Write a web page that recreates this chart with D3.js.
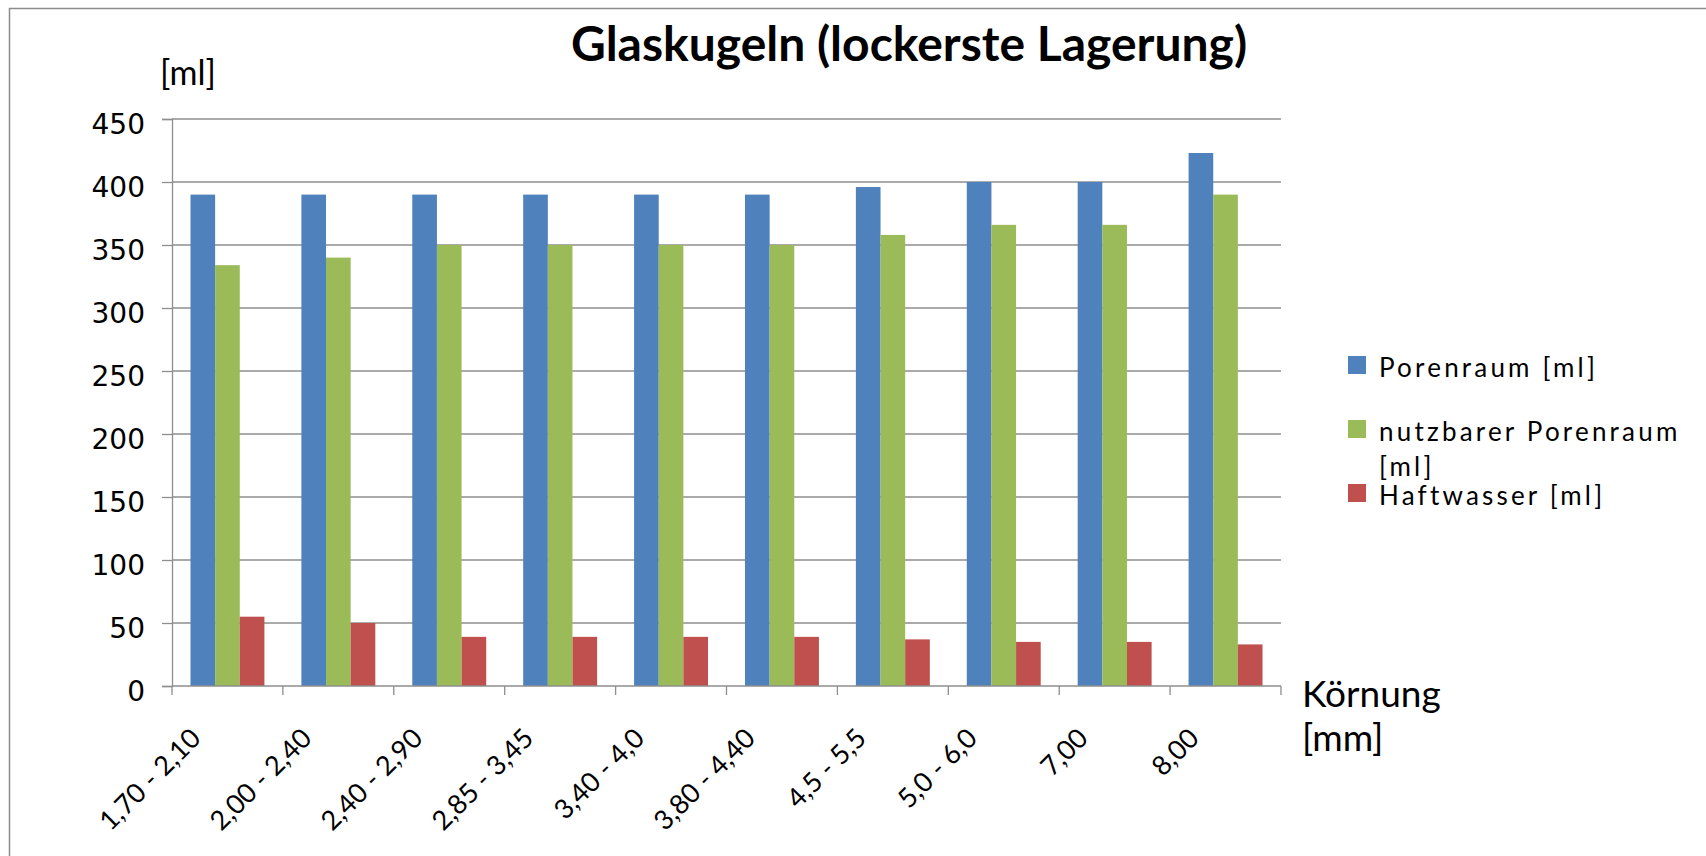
<!DOCTYPE html>
<html>
<head>
<meta charset="utf-8">
<script src="https://cdn.jsdelivr.net/npm/d3@7"></script>
<style>
  body { margin: 0; background: #fff; }
  svg { display: block; }
</style>
</head>
<body>
<div id="svg_area"></div>
<script>
// Data
var categories = ["1,70 - 2,10", "2,00 - 2,40", "2,40 - 2,90", "2,85 - 3,45", "3,40 - 4,0",
                  "3,80 - 4,40", "4,5 - 5,5", "5,0 - 6,0", "7,00", "8,00"];
var seriesNames = ["Porenraum [ml]", "nutzbarer Porenraum [ml]", "Haftwasser [ml]"];
var porenraum = [390, 390, 390, 390, 390, 390, 396, 400, 400, 423];
var nutzbarerPorenraum = [334, 340, 350, 350, 350, 350, 358, 366, 366, 390];
var haftwasser = [55, 50, 39, 39, 39, 39, 37, 35, 35, 33];
var yTicks = [0, 50, 100, 150, 200, 250, 300, 350, 400, 450];

var colors = ["#4F81BD", "#9BBB59", "#C0504D"];

// Define SVG area dimensions
var svgWidth = 1706;
var svgHeight = 856;

// plot area
var margin = { top: 119, left: 172, right: 1706 - 1281, bottom: 856 - 686 };
var chartWidth = svgWidth - margin.left - margin.right;
var chartHeight = svgHeight - margin.top - margin.bottom;

var svg = d3.select("#svg_area")
  .append("svg")
  .attr("width", svgWidth)
  .attr("height", svgHeight);

svg.append("rect")
  .attr("width", svgWidth)
  .attr("height", svgHeight)
  .attr("fill", "#fff");

// outer chart border (right and bottom sides run off the picture)
svg.append("rect")
  .attr("x", 9.5)
  .attr("y", 8.5)
  .attr("width", svgWidth + 20)
  .attr("height", svgHeight + 20)
  .attr("fill", "none")
  .attr("stroke", "#8c8c8c")
  .attr("stroke-width", 1.5);

var chartGroup = svg.append("g")
  .attr("transform", `translate(${margin.left}, ${margin.top})`);

// build rows for grouping
var tableData = categories.map(function(c, i) {
  return { cat: c, values: [porenraum[i], nutzbarerPorenraum[i], haftwasser[i]] };
});

// scales
var xScale = d3.scaleBand()
  .domain(categories)
  .range([0, chartWidth])
  .paddingInner(1 / 3)
  .paddingOuter(1 / 6);

var xInner = d3.scaleBand()
  .domain(d3.range(seriesNames.length))
  .range([0, xScale.bandwidth()]);

var yScale = d3.scaleLinear()
  .domain([0, 450])
  .range([chartHeight, 0]);

// gridlines
chartGroup.append("g")
  .selectAll("line")
  .data(yTicks.filter(d => d > 0))
  .enter()
  .append("line")
  .attr("x1", 0)
  .attr("x2", chartWidth)
  .attr("y1", d => yScale(d))
  .attr("y2", d => yScale(d))
  .attr("stroke", "#8e8e8e")
  .attr("stroke-width", 1.3);

// left axis
var leftAxis = d3.axisLeft(yScale)
  .tickValues(yTicks)
  .tickSize(10)
  .tickPadding(17)
  .tickFormat(d3.format("d"));

var yAxisG = chartGroup.append("g")
  .call(leftAxis);
yAxisG.select(".domain").attr("stroke", "#8e8e8e").attr("stroke-width", 1.3);
yAxisG.selectAll(".tick line").attr("stroke", "#8e8e8e").attr("stroke-width", 1.3);
yAxisG.selectAll(".tick text")
  .attr("font-family", "DejaVu Sans")
  .attr("font-size", "28px")
  .attr("fill", "#000")
  .attr("dy", "0.52em");

// bars
var groups = chartGroup.selectAll(".group")
  .data(tableData)
  .enter()
  .append("g")
  .attr("class", "group")
  .attr("transform", d => `translate(${xScale(d.cat)}, 0)`);

groups.selectAll("rect")
  .data(d => d.values)
  .enter()
  .append("rect")
  .attr("x", (d, i) => xInner(i))
  .attr("width", xInner.bandwidth())
  .attr("y", d => yScale(d))
  .attr("height", d => chartHeight - yScale(d))
  .attr("fill", (d, i) => colors[i]);

// bottom axis with ticks between categories
var boundaries = d3.range(categories.length + 1).map(function(i) {
  return i * xScale.step();
});
var xAxisG = chartGroup.append("g")
  .attr("transform", `translate(0, ${chartHeight})`);
xAxisG.append("line")
  .attr("x1", 0)
  .attr("x2", chartWidth)
  .attr("stroke", "#8e8e8e")
  .attr("stroke-width", 1.5);
xAxisG.selectAll(".btick")
  .data(boundaries)
  .enter()
  .append("line")
  .attr("class", "btick")
  .attr("x1", d => d)
  .attr("x2", d => d)
  .attr("y1", 0)
  .attr("y2", 9)
  .attr("stroke", "#8e8e8e")
  .attr("stroke-width", 1.3);

// rotated category labels
xAxisG.selectAll(".xlabel")
  .data(categories)
  .enter()
  .append("text")
  .attr("class", "xlabel")
  .attr("transform", d => `translate(${xScale(d) + xScale.bandwidth() / 2 - 25}, 54) rotate(-45)`)
  .attr("text-anchor", "end")
  .attr("font-family", "Lato")
  .attr("font-size", "27px")
  .attr("fill", "#000")
  .text(d => d);

// title
svg.append("text")
  .attr("x", 909)
  .attr("y", 61)
  .attr("text-anchor", "middle")
  .attr("font-family", "Lato")
  .attr("font-weight", "bold")
  .attr("font-size", "48px")
  .attr("fill", "#000")
  .text("Glaskugeln (lockerste Lagerung)");

// axis labels
svg.append("text")
  .attr("x", 160)
  .attr("y", 85)
  .attr("font-family", "Lato")
  .attr("font-size", "34px")
  .attr("fill", "#000")
  .text("[ml]");

svg.append("text")
  .attr("x", 1302)
  .attr("y", 707)
  .attr("font-family", "Lato")
  .attr("font-size", "37px")
  .attr("fill", "#000")
  .text("Körnung");

svg.append("text")
  .attr("x", 1302)
  .attr("y", 751)
  .attr("font-family", "Lato")
  .attr("font-size", "37px")
  .attr("fill", "#000")
  .text("[mm]");

// legend
var legendRows = [
  { lines: ["Porenraum [ml]"], y: 356 },
  { lines: ["nutzbarer Porenraum", "[ml]"], y: 420 },
  { lines: ["Haftwasser [ml]"], y: 484 }
];
var legend = svg.append("g");
legendRows.forEach(function(row, i) {
  legend.append("rect")
    .attr("x", 1348)
    .attr("y", row.y)
    .attr("width", 18)
    .attr("height", 18)
    .attr("fill", colors[i]);
  var t = legend.append("text")
    .attr("x", 1379)
    .attr("y", row.y + 21)
    .attr("font-family", "Lato")
    .attr("font-size", "26px")
    .attr("letter-spacing", "3.2px")
    .attr("fill", "#000");
  row.lines.forEach(function(line, j) {
    t.append("tspan")
      .attr("x", 1379)
      .attr("dy", j === 0 ? 0 : 35)
      .text(line);
  });
});
</script>
</body>
</html>
